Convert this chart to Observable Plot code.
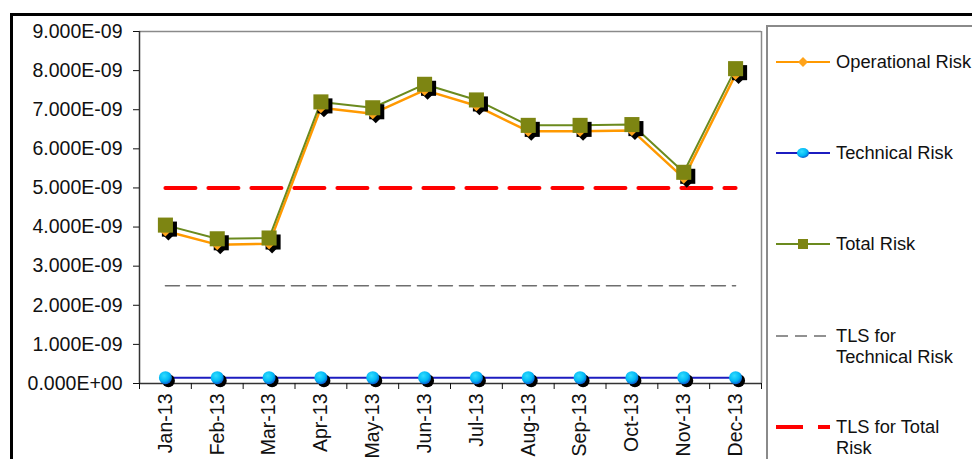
<!DOCTYPE html>
<html>
<head>
<meta charset="utf-8">
<script src="https://cdn.jsdelivr.net/npm/d3@7"></script>
<script src="https://cdn.jsdelivr.net/npm/@observablehq/plot@0.6"></script>
<style>
  html, body { margin: 0; padding: 0; background: #fff; width: 972px; height: 459px; overflow: hidden; }
  body { position: relative; font-family: "Liberation Sans", Arial, sans-serif; }
  #frame { position: absolute; left: 10px; top: 13px; width: 1000px; height: 500px; border-left: 3px solid #000; border-top: 3px solid #000; }
  #chart { position: absolute; left: 0; top: 0; }
  #legend { position: absolute; left: 766px; top: 25px; width: 300px; height: 500px; border: 2px solid #8a8a8a; background: #fff; }
  .item { position: absolute; left: 8px; display: flex; align-items: flex-start; font-size: 18.3px; line-height: 21px; color: #111; }
  .item svg { flex: none; margin-right: 4px; }
</style>
</head>
<body>
<div id="frame"></div>
<div id="chart"></div>
<div id="legend"></div>
<script>
const months = ["Jan-13","Feb-13","Mar-13","Apr-13","May-13","Jun-13","Jul-13","Aug-13","Sep-13","Oct-13","Nov-13","Dec-13"];
const operationalRisk = [3.9e-9, 3.55e-9, 3.57e-9, 7.05e-9, 6.9e-9, 7.5e-9, 7.1e-9, 6.45e-9, 6.45e-9, 6.47e-9, 5.25e-9, 7.9e-9];
const technicalRisk = [1.5e-10, 1.5e-10, 1.5e-10, 1.5e-10, 1.5e-10, 1.5e-10, 1.5e-10, 1.5e-10, 1.5e-10, 1.5e-10, 1.5e-10, 1.5e-10];
const totalRisk = [4.05e-9, 3.7e-9, 3.72e-9, 7.2e-9, 7.05e-9, 7.65e-9, 7.25e-9, 6.6e-9, 6.6e-9, 6.62e-9, 5.4e-9, 8.05e-9];
const tlsTechnical = [2.5e-9, 2.5e-9, 2.5e-9, 2.5e-9, 2.5e-9, 2.5e-9, 2.5e-9, 2.5e-9, 2.5e-9, 2.5e-9, 2.5e-9, 2.5e-9];
const tlsTotal = [5e-9, 5e-9, 5e-9, 5e-9, 5e-9, 5e-9, 5e-9, 5e-9, 5e-9, 5e-9, 5e-9, 5e-9];
const yTicks = [0, 1e-9, 2e-9, 3e-9, 4e-9, 5e-9, 6e-9, 7e-9, 8e-9, 9e-9];
const seriesNames = ["Operational Risk", "Technical Risk", "Total Risk", "TLS for\nTechnical Risk", "TLS for Total\nRisk"];

const rows = months.map((m, i) => ({
  i, m,
  op: operationalRisk[i], tech: technicalRisk[i], total: totalRisk[i],
  tlsTech: tlsTechnical[i], tlsTot: tlsTotal[i]
}));

function sci(v) {
  if (v === 0) return "0.000E+00";
  const e = Math.floor(Math.log10(Math.abs(v)) + 1e-9);
  const m = v / Math.pow(10, e);
  const es = (e < 0 ? "-" : "+") + String(Math.abs(e)).padStart(2, "0");
  return m.toFixed(3) + "E" + es;
}

const C = {
  op: "#ff9900", opMark: "#ffa31a",
  tech: "#1c1cc0", techMark: "url(#ballGrad)",
  total: "#6b8a1e", totalMark: "#7d8512",
  tlsTech: "#6e6e6e", tlsTot: "#ff0000"
};

const chart = Plot.plot({
  width: 972, height: 459,
  marginLeft: 139, marginRight: 211, marginTop: 31, marginBottom: 76,
  x: {type: "linear", domain: [-0.5, 11.5]},
  y: {domain: [0, 9e-9]},
  style: {fontFamily: "'Liberation Sans', Arial, sans-serif", fontSize: "19.5px", color: "#111", background: "transparent", overflow: "visible"},
  marks: [
    Plot.ruleY([9e-9], {stroke: "#8a8a8a", strokeWidth: 1.5}),
    Plot.ruleX([11.5], {stroke: "#8a8a8a", strokeWidth: 1.5}),
    Plot.lineY(rows, {x: "i", y: "tlsTech", stroke: C.tlsTech, strokeWidth: 1.5, strokeDasharray: "14,7"}),
    Plot.lineY(rows, {x: "i", y: "tlsTot", stroke: C.tlsTot, strokeWidth: 4, strokeDasharray: "30,13"}),
    Plot.ruleX([-0.5], {stroke: "#333", strokeWidth: 1.5}),
    Plot.ruleY([0], {stroke: "#333", strokeWidth: 1.5}),
    Plot.axisY({ticks: yTicks, tickFormat: sci, tickSize: 6, tickPadding: 11, label: null, fontSize: 19.5}),
    Plot.axisX({ticks: d3.range(-0.5, 12, 1), tickFormat: () => "", tickSize: 6, label: null}),
    Plot.axisX({ticks: d3.range(0, 12), tickFormat: i => months[i], tickSize: 0, tickPadding: 10, tickRotate: -90, label: null, fontSize: 19.5}),
    // lines
    Plot.lineY(rows, {x: "i", y: "tech", stroke: C.tech, strokeWidth: 2}),
    Plot.lineY(rows, {x: "i", y: "op", stroke: C.op, strokeWidth: 2.5}),
    Plot.lineY(rows, {x: "i", y: "total", stroke: C.total, strokeWidth: 2}),
    // shadows
    Plot.dot(rows, {x: "i", y: "op", symbol: "diamond2", r: 5, fill: "#000", dx: 3, dy: 4}),
    Plot.dot(rows, {x: "i", y: "tech", r: 6.5, fill: "#000", dx: 3, dy: 3}),
    Plot.dot(rows, {x: "i", y: "total", symbol: "square", r: 8.5, fill: "#000", dx: 4, dy: 4}),
    // markers
    Plot.dot(rows, {x: "i", y: "op", symbol: "diamond2", r: 5, fill: C.opMark}),
    Plot.dot(rows, {x: "i", y: "tech", r: 6.5, fill: C.techMark}),
    Plot.dot(rows, {x: "i", y: "total", symbol: "square", r: 8.5, fill: C.totalMark})
  ]
});

// gradient for technical risk balls
const defs = document.createElementNS("http://www.w3.org/2000/svg", "defs");
defs.innerHTML = `<radialGradient id="ballGrad" cx="40%" cy="35%" r="65%">
  <stop offset="0%" stop-color="#33ddff"/>
  <stop offset="65%" stop-color="#00b8f5"/>
  <stop offset="100%" stop-color="#0a5fd0"/>
</radialGradient>`;
chart.insertBefore(defs, chart.firstChild);
document.getElementById("chart").appendChild(chart);

// legend
const legend = document.getElementById("legend");
const tops = [24, 115, 206, 298, 389];
const swatches = [
  `<line x1="0" y1="11" x2="54" y2="11" stroke="${C.op}" stroke-width="2"/><path d="M27 6 L32 11 L27 16 L22 11Z" fill="${C.opMark}"/>`,
  `<line x1="0" y1="11" x2="54" y2="11" stroke="${C.tech}" stroke-width="2"/><ellipse cx="27" cy="11" rx="6" ry="5" fill="url(#ballGrad)"/>`,
  `<line x1="0" y1="11" x2="54" y2="11" stroke="${C.total}" stroke-width="2"/><rect x="22" y="6" width="10" height="10" fill="${C.totalMark}"/>`,
  `<line x1="0" y1="11" x2="54" y2="11" stroke="${C.tlsTech}" stroke-width="1.5" stroke-dasharray="12,7"/>`,
  `<line x1="0" y1="11" x2="54" y2="11" stroke="${C.tlsTot}" stroke-width="4" stroke-dasharray="27,15"/>`
];
seriesNames.forEach((name, k) => {
  const d = document.createElement("div");
  d.className = "item";
  d.style.top = tops[k] + "px";
  d.innerHTML = `<svg width="56" height="22" viewBox="0 0 56 22">${swatches[k]}</svg><span>${name.replace("\n", "<br>")}</span>`;
  legend.appendChild(d);
});
</script>
</body>
</html>
